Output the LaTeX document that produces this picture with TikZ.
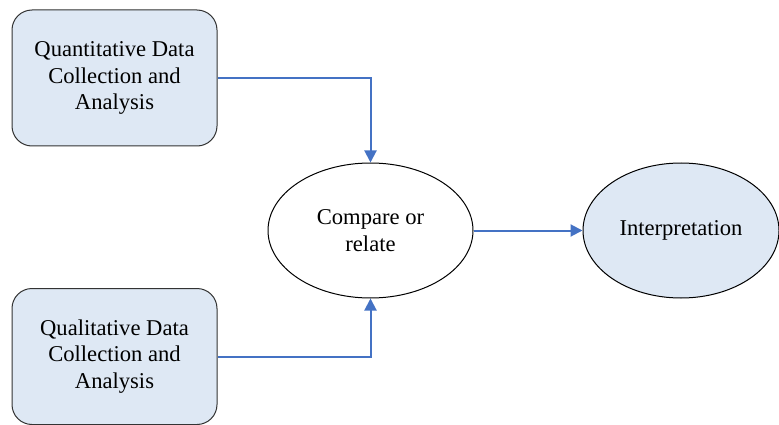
\documentclass[tikz,border=0pt]{standalone}
\usepackage{fontspec}
\setmainfont{Liberation Serif}
\usetikzlibrary{shapes.geometric, arrows.meta}
\definecolor{boxfill}{HTML}{DEE8F4}
\definecolor{arrblue}{HTML}{4472C4}

\begin{document}
\begin{tikzpicture}[x=1pt, y=-1pt,
  txt/.style={align=center, font=\fontsize{22.6}{26.7}\selectfont},
  databox/.style={txt, draw=black!80, line width=1pt, fill=boxfill, rounded corners=20pt, minimum width=205pt, minimum height=136pt},
  oval/.style={txt, ellipse, draw=black, line width=1pt, minimum height=135pt},
  arr/.style={draw=arrblue, line width=2pt, -{Triangle[length=12pt, width=12pt]}}]
\useasboundingbox (0,0) rectangle (779,425);
\node[databox] (quan) at (114.5,78) {Quantitative Data\\Collection and\\Analysis};
\node[databox] (qual) at (114.5,356.5) {Qualitative Data\\Collection and\\Analysis};
\node[oval, minimum width=205pt] (comp) at (370.5,230.5) {Compare or\\relate};
\node[oval, fill=boxfill, minimum width=196pt] (interp) at (681,230.5) {Interpretation};
%\node at (370,10){};
\draw[arr] (quan.east) -| (comp.north);
\draw[arr] (qual.east) -| (comp.south);
\draw[arr] (comp) -- (interp);
\end{tikzpicture}
\end{document}
